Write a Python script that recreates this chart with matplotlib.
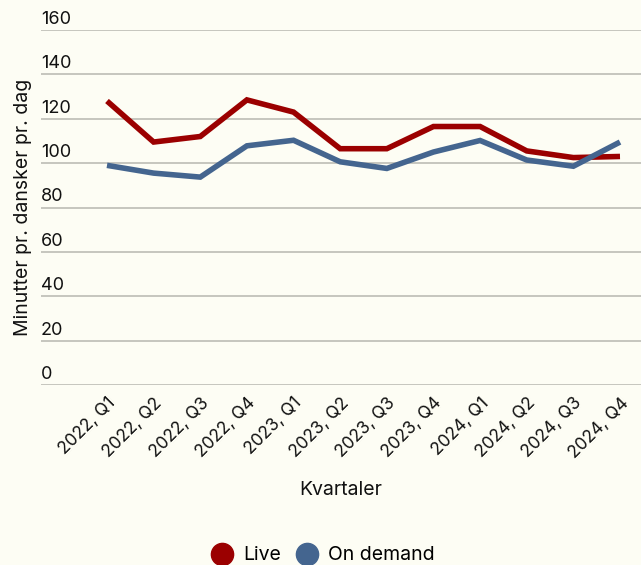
import matplotlib
matplotlib.use("Agg")
import matplotlib.pyplot as plt
import matplotlib.transforms as mtransforms
from matplotlib.lines import Line2D

quarters = ["2022, Q1", "2022, Q2", "2022, Q3", "2022, Q4",
            "2023, Q1", "2023, Q2", "2023, Q3", "2023, Q4",
            "2024, Q1", "2024, Q2", "2024, Q3", "2024, Q4"]
live = [128, 109.5, 112, 128.5, 123, 106.5, 106.5, 116.5, 116.5, 105.5, 102.5, 103]
on_demand = [99, 95.5, 93.7, 107.8, 110.3, 100.6, 97.6, 105, 110.2, 101.4, 98.6, 109.5]
y_ticks = [0, 20, 40, 60, 80, 100, 120, 140, 160]
series_names = ["Live", "On demand"]
colors = ["#9b0000", "#44658f"]

bg = "#fdfdf4"
plt.rcParams['font.family'] = ['Inter', 'DejaVu Sans']

fig = plt.figure(figsize=(6.41, 5.65), dpi=100, facecolor=bg)
W, H = 641, 565
ax = fig.add_axes([41 / W, 1 - 385 / H, 600 / W, 355 / H], facecolor=bg)

x = list(range(len(quarters)))
ax.plot(x, live, color=colors[0], lw=4, solid_joinstyle='miter', solid_capstyle='butt', zorder=3)
ax.plot(x, on_demand, color=colors[1], lw=4, solid_joinstyle='miter', solid_capstyle='butt', zorder=3)

ax.set_ylim(0, 160)
ax.set_xlim(-66 / 46.64, 11 + 21 / 46.64)
for s in ax.spines.values():
    s.set_visible(False)

ax.set_yticks(y_ticks)
ax.yaxis.grid(True, color="#c6c6be", lw=1.4)
ax.set_axisbelow(True)
ax.tick_params(axis='y', length=0, labelleft=False)

trans = mtransforms.blended_transform_factory(ax.transAxes, ax.transData)
off = mtransforms.offset_copy(trans, fig=fig, x=0, y=1.5, units='points')
for v in y_ticks:
    ax.text(0, v, str(v), transform=off, ha='left', va='bottom',
            fontsize=13, color="#111111")

ax.set_xticks(x)
ax.set_xticklabels(quarters, rotation=45, ha='right', va='top',
                   rotation_mode='anchor', fontsize=12.5, color="#111111")
ax.tick_params(axis='x', length=0, pad=7)

ax.set_ylabel("Minutter pr. dansker pr. dag", fontsize=14, color="#111111")
ax.yaxis.set_label_coords(-9 / 600, 0.5)
ax.set_xlabel("Kvartaler", fontsize=14, color="#111111", labelpad=14)

handles = [Line2D([], [], ls='none', marker='o', markersize=16,
                  markerfacecolor=c, markeredgecolor=c) for c in colors]
fig.legend(handles, series_names, loc='lower center', bbox_to_anchor=(0.503, -0.03),
           ncol=2, frameon=False, fontsize=14, handletextpad=0.5,
           columnspacing=0.7, handlelength=1.2)

fig.savefig("out.png", dpi=100, facecolor=bg)
